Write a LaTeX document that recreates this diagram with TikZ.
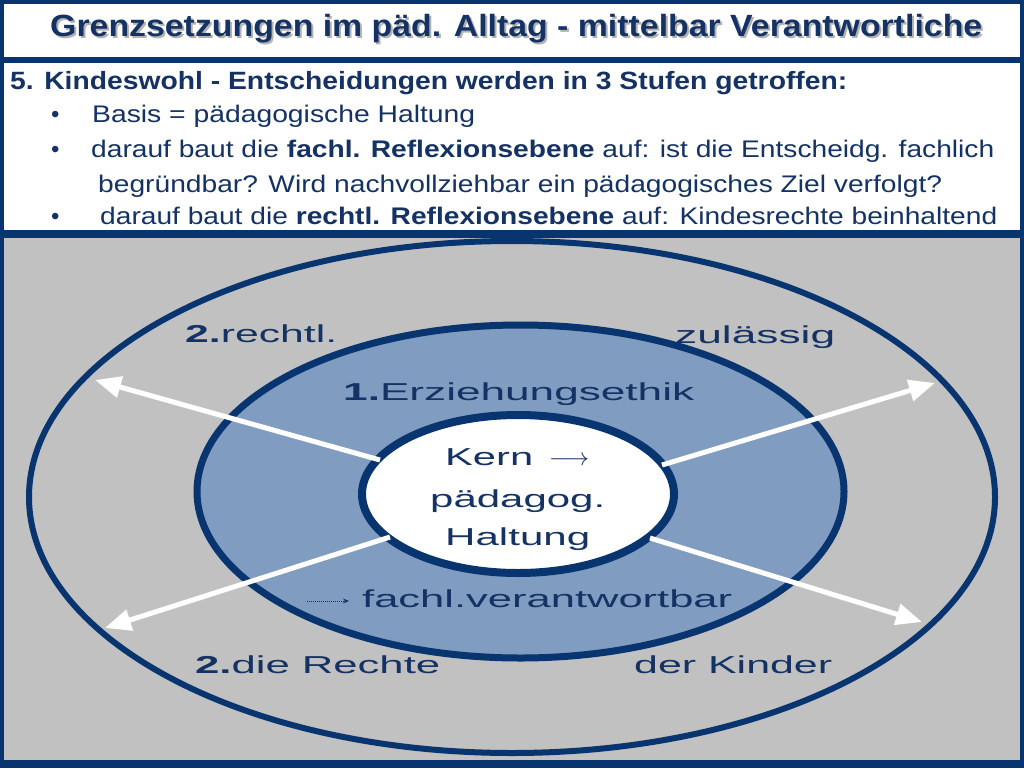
\documentclass[tikz,border=0pt]{standalone}
\usepackage{fontspec}
\setmainfont{Liberation Sans}
\usepackage{graphicx}
\usetikzlibrary{shapes.geometric,arrows.meta}
\definecolor{frameblue}{RGB}{8,52,112}
\definecolor{navy}{RGB}{20,50,100}
\definecolor{midfill}{RGB}{128,156,192}
\definecolor{bggray}{RGB}{193,193,193}
\newcommand{\fitw}[2]{\resizebox{#1pt}{\height}{#2}}
\begin{document}
\begin{tikzpicture}[x=1pt,y=-1pt,
  txt/.style={anchor=base west, inner sep=0pt, text=navy, font=\fontsize{24.5}{29}\selectfont},
  bodytxt/.style={anchor=base west, inner sep=0pt, text=navy, font=\fontsize{24}{29}\selectfont},
  ring/.style={ellipse, draw=frameblue, inner sep=0pt, outer sep=0pt},
  outarrow/.style={draw=white, line width=5pt, -{Triangle[length=26pt,width=21pt]}}
]
\useasboundingbox (0,0) rectangle (1024,768);
% frame and panels
\fill[frameblue] (0,0) rectangle (1024,768);
\fill[white] (4,4) rectangle (1019.5,57);
\fill[white] (4,63) rectangle (1019.5,230);
\fill[bggray] (4,238) rectangle (1019.5,760);

% title
\node[anchor=base west, inner sep=0pt, text=black!30, font=\bfseries\fontsize{30.7}{36}\selectfont] (titleshadow) at (52,39)
  {\fitw{932}{Grenzsetzungen im päd. Alltag - mittelbar Verantwortliche}};
\node[anchor=base west, inner sep=0pt, text=navy, font=\bfseries\fontsize{30.7}{36}\selectfont] (title) at (50,37)
  {\fitw{932}{Grenzsetzungen im päd. Alltag - mittelbar Verantwortliche}};

% body text
\node[bodytxt, font=\bfseries\fontsize{25}{29}\selectfont] (l1) at (10,89)
  {\fitw{837}{5. Kindeswohl - Entscheidungen werden in 3 Stufen getroffen:}};
\node[bodytxt] (b1) at (51,122) {•};
\node[bodytxt] (l2) at (92,122) {\fitw{383}{Basis = pädagogische Haltung}};
\node[bodytxt] (b2) at (51,157) {•};
\node[bodytxt] (l3) at (91,157) {\fitw{903}{darauf baut die \textbf{fachl. Reflexionsebene} auf: ist die Entscheidg. fachlich}};
\node[bodytxt] (l4) at (98,192) {\fitw{844}{begründbar? Wird nachvollziehbar ein pädagogisches Ziel verfolgt?}};
\node[bodytxt] (b3) at (51,224) {•};
\node[bodytxt] (l5) at (100,224) {\fitw{897}{darauf baut die \textbf{rechtl. Reflexionsebene} auf: Kindesrechte beinhaltend}};

% rings
\node[ring, line width=6pt, minimum width=966pt, minimum height=512pt] (outer) at (512,497) {};
\node[ring, line width=7pt, fill=midfill, minimum width=647pt, minimum height=333pt] (middle) at (520.5,491.5) {};
\node[ring, line width=8pt, fill=white, minimum width=312pt, minimum height=158pt] (inner) at (518,494) {};

% arrow end points
\coordinate (ulS) at (380,460);
\coordinate (ulT) at (95,380);
\coordinate (urS) at (662,465);
\coordinate (urT) at (935,383);
\coordinate (llS) at (390,537);
\coordinate (llT) at (105,628);
\coordinate (lrS) at (650,538);
\coordinate (lrT) at (922,622);
\draw[outarrow] (ulS) -- (ulT);
\draw[outarrow] (urS) -- (urT);
\draw[outarrow] (llS) -- (llT);
\draw[outarrow] (lrS) -- (lrT);

% ring labels
\node[txt] (rechtl) at (185,342) {\fitw{152}{\textbf{2.}rechtl.}};
\node[txt] (zul) at (675,343) {\fitw{160}{zulässig}};
\node[txt] (ethik) at (343,400) {\fitw{351}{\textbf{1.}Erziehungsethik}};
\node[txt] (kern) at (445,465) {\fitw{88}{Kern}};
\node[txt] (kernarrow) at (549,465) {$\longrightarrow$};
\node[txt] (paed) at (430,507) {\fitw{175}{pädagog.}};
\node[txt] (halt) at (445,545) {\fitw{145}{Haltung}};
\coordinate (dotS) at (307,601);
\coordinate (dotE) at (349,601);
\draw[navy, densely dotted, line width=1pt, -{Stealth[length=6pt,width=5pt]}] (dotS) -- (dotE);
\node[txt] (fachl) at (362,607) {\fitw{370}{fachl.verantwortbar}};
\node[txt] (rechte) at (195,673) {\fitw{245}{\textbf{2.}die Rechte}};
\node[txt] (kinder) at (634,673) {\fitw{198}{der Kinder}};
\end{tikzpicture}
\end{document}
